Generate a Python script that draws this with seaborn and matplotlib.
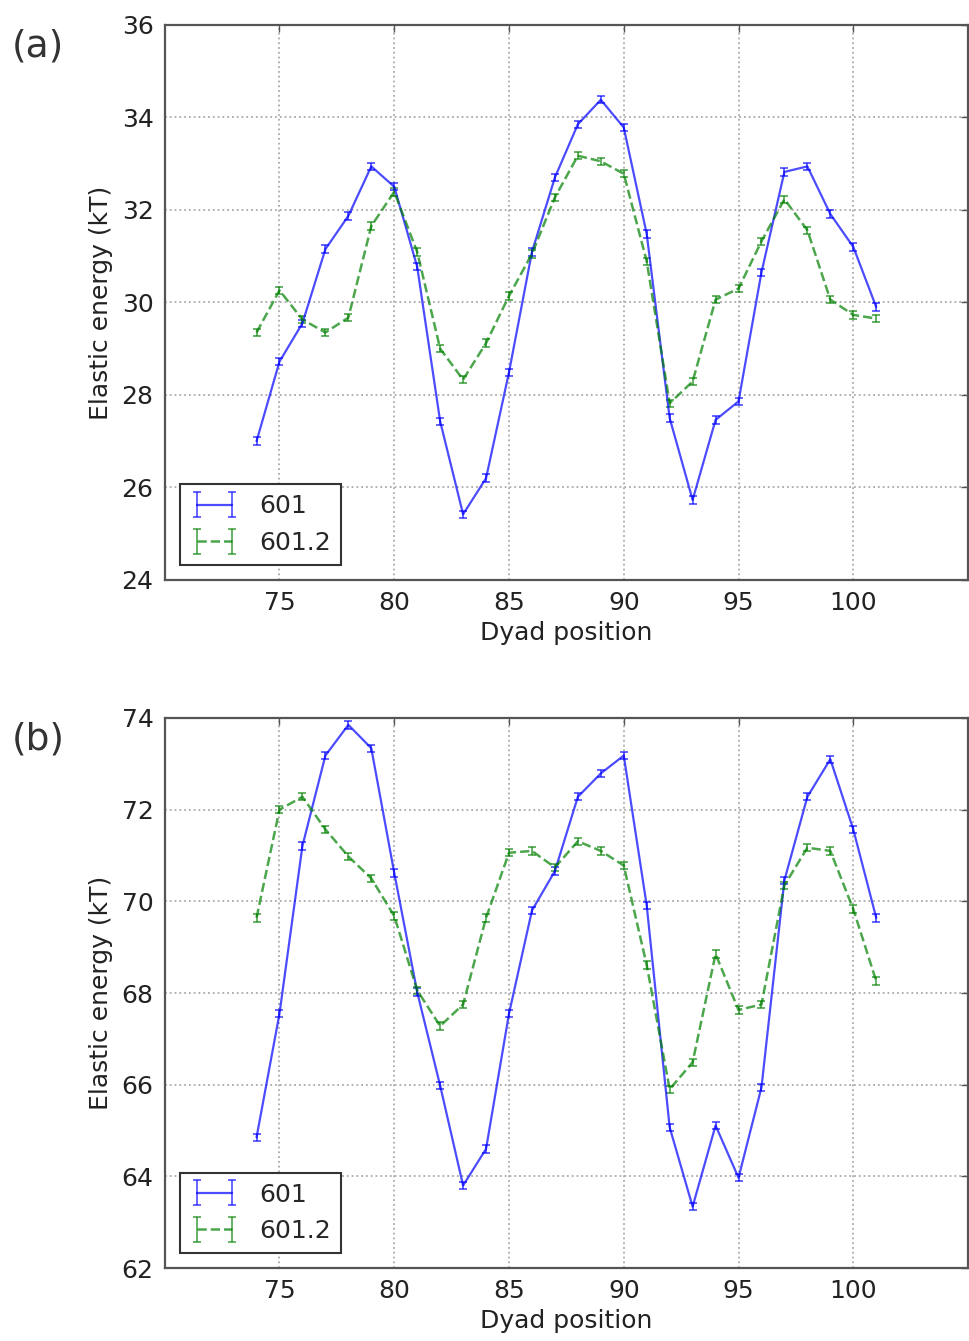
import numpy as np
import seaborn as sns
import matplotlib.pyplot as plt

# Dyad positions
dyad = list(range(74, 102))

# Panel (a) elastic energies (kT)
a_601 = [27.0, 28.72, 29.55, 31.15, 31.87, 32.94, 32.5, 30.77, 27.43, 25.42,
         26.2, 28.49, 31.09, 32.7, 33.85, 34.38, 33.78, 31.48, 27.5, 25.73,
         27.46, 27.86, 30.65, 32.82, 32.94, 31.91, 31.2, 29.9]
a_6012 = [29.35, 30.26, 29.63, 29.35, 29.67, 31.65, 32.39, 31.09, 29.0, 28.33,
          29.12, 30.14, 31.05, 32.27, 33.17, 33.05, 32.78, 30.89, 27.82, 28.29,
          30.06, 30.3, 31.32, 32.23, 31.56, 30.06, 29.73, 29.65]

# Panel (b) elastic energies (kT)
b_601 = [64.85, 67.55, 71.21, 73.18, 73.85, 73.34, 70.62, 68.02, 65.98, 63.8,
         64.6, 67.55, 69.8, 70.66, 72.28, 72.79, 73.18, 69.91, 65.07, 63.34,
         65.11, 63.97, 65.94, 70.46, 72.28, 73.1, 71.57, 69.64]
b_6012 = [69.64, 72.0, 72.28, 71.57, 70.98, 70.5, 69.68, 68.06, 67.28, 67.75,
          69.64, 71.06, 71.1, 70.74, 71.31, 71.1, 70.78, 68.61, 65.9, 66.49,
          68.85, 67.63, 67.75, 70.35, 71.17, 71.1, 69.83, 68.26]

err_a = 0.08
err_b = 0.08

panels = [
    ("(a)", a_601, a_6012, err_a, (24, 36), [24, 26, 28, 30, 32, 34, 36]),
    ("(b)", b_601, b_6012, err_b, (62, 74), [62, 64, 66, 68, 70, 72, 74]),
]

sns.set_style("white")
plt.rcParams['font.family'] = ['DejaVu Sans']
plt.rcParams['font.size'] = 18

fig = plt.figure(figsize=(9.69, 13.41), dpi=100)
rects = [[0.170, 0.5675, 0.829, 0.414], [0.170, 0.0544, 0.829, 0.4102]]

for rect, (tag, s1, s2, err, ylim, yticks) in zip(rects, panels):
    ax = fig.add_axes(rect)
    ax.errorbar(dyad, s1, yerr=err, color='b', alpha=0.7, lw=1.6, ls='-',
                capsize=3, capthick=1.2, elinewidth=1.2, label='601')
    ax.errorbar(dyad, s2, yerr=err, color='g', alpha=0.7, lw=1.8, ls='--',
                capsize=3, capthick=1.2, elinewidth=1.2, label='601.2')
    ax.set_xlim(70, 105)
    ax.set_ylim(*ylim)
    ax.set_xticks([75, 80, 85, 90, 95, 100])
    ax.set_yticks(yticks)
    ax.grid(True, color='#aaaaaa', ls=':', lw=1.3)
    for sp in ax.spines.values():
        sp.set_color('#555555')
        sp.set_linewidth(1.6)
    ax.tick_params(direction='in', length=5, width=1, colors='#555555',
                   labelcolor='#222222', labelsize=18, pad=8,
                   top=True, right=True)
    ax.set_xlabel('Dyad position', fontsize=18, color='#222222', labelpad=4)
    ax.set_ylabel('Elastic energy (kT)', fontsize=18, color='#222222', labelpad=6)
    leg = ax.legend(loc='lower left', fontsize=18, fancybox=False, numpoints=2,
                    borderaxespad=0.6, handlelength=2.0, framealpha=1)
    leg.get_frame().set_edgecolor('#333333')
    leg.get_frame().set_linewidth(1.5)
    fig.text(0.012, rect[1] + rect[3] - 0.003, tag, fontsize=27,
             color='#333333', va='top', ha='left')

fig.savefig('out.png', dpi=100)
